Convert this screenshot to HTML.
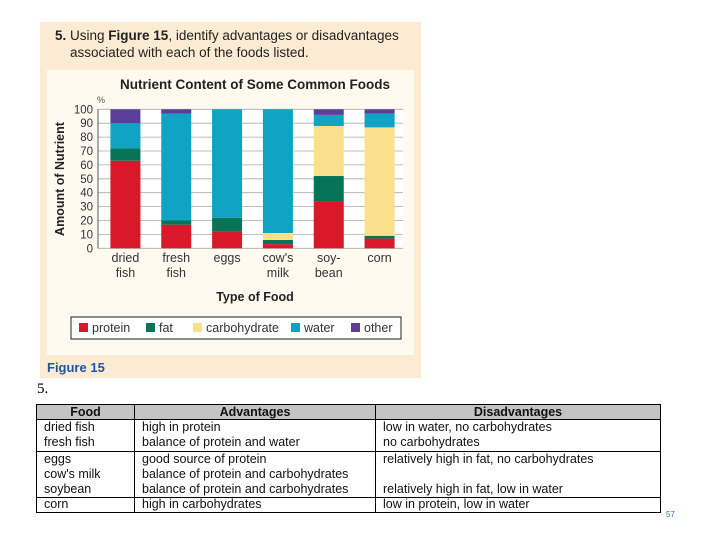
<!DOCTYPE html>
<html><head><meta charset="utf-8">
<style>
body{margin:0;width:720px;height:540px;background:#fff;position:relative;overflow:hidden;font-family:"Liberation Sans",Arial,sans-serif}
.abs{position:absolute}
table{border-collapse:collapse;font-size:12.5px;color:#111}
td{border-left:1px solid #000;border-right:1px solid #000;padding:0 7px;vertical-align:top;line-height:15.3px}
</style></head><body>
<div class="abs" style="left:40px;top:22px;width:381px;height:356px;background:#fcebd3"></div>
<div class="abs" style="left:55px;top:27px;font-size:13.5px;line-height:17px;color:#222"><b>5.</b> Using <b>Figure 15</b>, identify advantages or disadvantages<br><span style="padding-left:15px">associated with each of the foods listed.</span></div>
<div class="abs" style="left:47px;top:70px;width:367px;height:285px;background:#fffaf0"></div>
<div class="abs" style="left:47px;top:360px;font-size:13px;font-weight:bold;color:#1a55a8">Figure 15</div>
<svg class="abs" style="left:0;top:0" width="720" height="540" id="chart"></svg>
<div class="abs" style="left:37px;top:381px;font-family:'Liberation Serif',serif;font-size:15px">5.</div>
<table class="abs" style="left:36px;top:404px;width:625px">
<tr style="background:#c4c4c4;font-weight:bold;text-align:center;border:1px solid #000"><td style="width:83px;line-height:14px">Food</td><td style="width:226px;line-height:14px">Advantages</td><td style="line-height:14px">Disadvantages</td></tr>
<tr style="border-top:1px solid #000"><td>dried fish<br>fresh fish</td><td>high in protein<br>balance of protein and water</td><td>low in water, no carbohydrates<br>no carbohydrates</td></tr>
<tr style="border-top:1px solid #000"><td>eggs<br>cow's milk<br>soybean</td><td>good source of protein<br>balance of protein and carbohydrates<br>balance of protein and carbohydrates</td><td>relatively high in fat, no carbohydrates<br><br>relatively high in fat, low in water</td></tr>
<tr style="border-top:1px solid #000;border-bottom:1px solid #000"><td style="line-height:13.5px">corn</td><td style="line-height:13.5px">high in carbohydrates</td><td style="line-height:13.5px">low in protein, low in water</td></tr>
</table>
<div class="abs" style="left:666px;top:510px;font-size:8px;color:#3a6fb0">57</div>
<script>
const categories=["dried|fish","fresh|fish","eggs","cow's|milk","soy-|bean","corn"];
const protein=[63,17,12,3,34,7];
const fat=[9,3,10,3,18,2];
const carbohydrate=[0,0,0,5,36,78];
const water=[18,77,78,89,8,10];
const other=[10,3,0,0,4,3];
const yTicks=[0,10,20,30,40,50,60,70,80,90,100];
const seriesNames=["protein","fat","carbohydrate","water","other"];
const colors=["#d7192a","#077457","#fbe08c","#10a3c3","#5c3d98"];
const series=[protein,fat,carbohydrate,water,other];
const svg=document.getElementById('chart');
const NS="http://www.w3.org/2000/svg";
const x0=98,x1=403,y0=248.3,y1=109.3;
const y=v=>y0-(v/100)*(y0-y1);
const band=(x1-x0)/categories.length;
const bx=i=>x0+band*i+(band-30)/2+2;
function mk(t,a,txt){const e=document.createElementNS(NS,t);for(const k in a)e.setAttribute(k,a[k]);if(txt!==undefined)e.textContent=txt;svg.appendChild(e);return e;}
let e;
e=mk('rect',{x:x0,y:y1,width:x1-x0,height:y0-y1,fill:'#fff'});


yTicks.forEach(t=>{
e=mk('line',{x1:x0,x2:x1,y1:y(t),y2:y(t),stroke:'#aaa','stroke-width':0.8});


e=mk('text',{x:x0-5,y:y(t)+4,'text-anchor':'end','font-size':11.5,fill:'#333'},t);


});
e=mk('line',{x1:x0,x2:x0,y1:y1,y2:y0,stroke:'#555'});


categories.forEach((c,i)=>{
let acc=0;
series.forEach((s,k)=>{
const v=s[i];if(v<=0)return;
e=mk('rect',{x:bx(i),y:y(acc+v),width:30,height:y(acc)-y(acc+v),fill:colors[k]});


acc+=v;});
c.split('|').forEach((ln,j)=>{
e=mk('text',{x:bx(i)+15,y:262+j*15,'text-anchor':'middle','font-size':12.5,fill:'#333'},ln);


});
});
e=mk('text',{x:255,y:89,'text-anchor':'middle','font-size':13.5,'font-weight':'bold',fill:'#222'},'Nutrient Content of Some Common Foods');


e=mk('text',{x:97,y:103,'font-size':9,fill:'#555'},'%');


e=mk('text',{x:0,y:0,'text-anchor':'middle','font-size':12.5,'font-weight':'bold',fill:'#222',transform:'translate(64,179) rotate(-90)'},'Amount of Nutrient');


e=mk('text',{x:255,y:301,'text-anchor':'middle','font-size':12.5,'font-weight':'bold',fill:'#222'},'Type of Food');


e=mk('rect',{x:71,y:317,width:330,height:22,fill:'#fff',stroke:'#222','stroke-width':1});


const lx=[79,146,193,291,351];
seriesNames.forEach((n,k)=>{
e=mk('rect',{x:lx[k],y:323,width:9,height:9,fill:colors[k]});


e=mk('text',{x:lx[k]+13,y:332,'font-size':12.5,fill:'#333'},n);


});
</script>
</body></html>
